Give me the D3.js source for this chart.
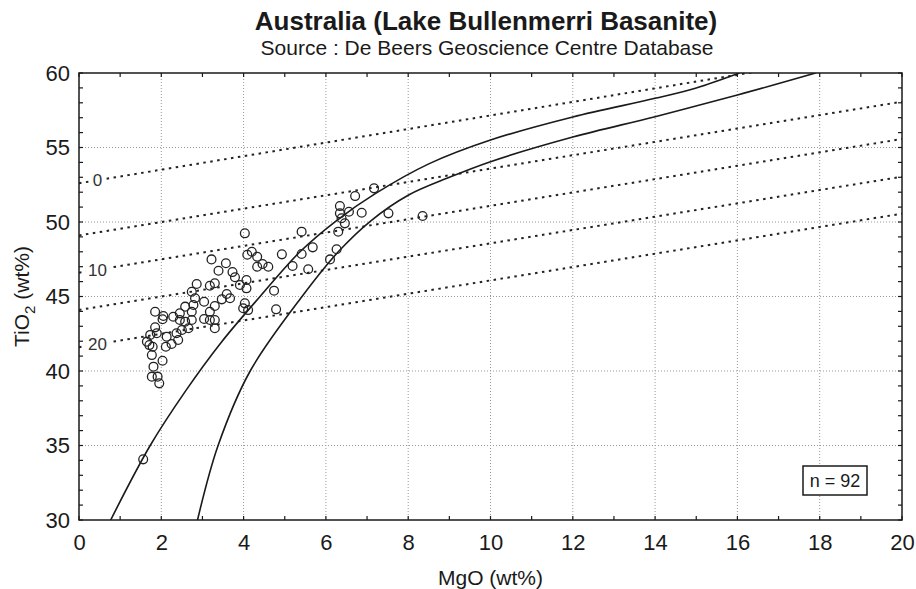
<!DOCTYPE html>
<html>
<head>
<meta charset="utf-8">
<script src="https://cdn.jsdelivr.net/npm/d3@7"></script>
<style>
  body { margin: 0; background: #fff; }
  svg text { font-family: "Liberation Sans", Arial, sans-serif; fill: #1a1a1a; }
</style>
</head>
<body>
<div id="chart"></div>
<script>
// sample points (MgO, TiO2)
const mgo = [
  3.22, 3.57, 3.39, 3.73, 3.79, 3.91, 4.07, 4.07, 4.03, 3.99, 4.11, 3.30, 3.18, 2.86, 2.74, 2.82,
  2.78, 3.04, 3.47, 3.59, 3.67, 3.30, 3.18, 3.18, 3.30, 3.04, 3.30, 2.74, 2.58, 2.45, 2.58, 2.45,
  2.29, 2.74, 2.66, 2.50, 2.37, 2.41, 2.25, 2.11, 2.13, 2.03, 2.05, 1.85, 1.85, 1.89, 1.73, 1.65,
  1.71, 1.79, 1.77, 1.81, 2.03, 1.77, 1.91, 1.95, 1.56,
  4.03, 5.41, 4.09, 4.20, 4.33, 4.33, 4.46, 4.60, 4.93, 5.19, 5.41, 5.68, 5.57, 6.10, 6.26, 6.30,
  4.74, 4.79,
  6.71, 7.17, 6.34, 6.34, 6.56, 6.87, 6.46, 6.38, 7.52, 8.35
];
const tio2 = [
  47.49, 47.23, 46.73, 46.64, 46.29, 45.77, 46.11, 45.55, 44.54, 44.21, 44.09, 45.89, 45.72, 45.84, 45.32, 44.88,
  44.43, 44.65, 44.81, 45.17, 44.88, 44.36, 43.98, 43.42, 43.42, 43.49, 42.87, 43.98, 44.32, 43.87, 43.31, 43.42,
  43.64, 43.42, 42.87, 42.75, 42.53, 42.08, 41.81, 41.63, 42.30, 43.47, 43.69, 43.98, 42.93, 42.53, 42.42, 41.97,
  41.74, 41.63, 41.07, 40.29, 40.69, 39.62, 39.62, 39.17, 34.07,
  49.24, 49.35, 47.80, 48.00, 47.67, 47.00, 47.18, 47.00, 47.83, 47.05, 47.85, 48.30, 46.83, 47.49, 48.17, 49.35,
  45.39, 44.14,
  51.74, 52.26, 51.07, 50.58, 50.69, 50.62, 49.91, 50.25, 50.58, 50.40
];

// solid boundary curves
const curveAx = [0.77, 1.73, 2.6, 3.45, 4.4, 5.37, 6.26, 7.2, 8.5, 10, 12, 14, 15, 16.05];
const curveAy = [30, 35, 38.7, 41.9, 45.0, 48.0, 50.1, 51.9, 53.9, 55.5, 57.05, 58.3, 59.0, 60];
const curveBx = [2.88, 3.38, 4.16, 5.42, 6.3, 7.1, 8.0, 9.0, 10, 12, 14, 16, 17.9];
const curveBy = [30, 35, 40, 45, 48.0, 50.1, 51.8, 53.0, 54.05, 55.7, 57.07, 58.52, 60];

// dotted guide lines: value at MgO = 0 and at MgO = 20
const guideStart = [52.6, 49.1, 46.6, 44.1, 41.6];
const guideEnd = [61.7, 58.07, 55.57, 53.04, 50.56];
const guideLabels = ['0', '', '10', '', '20'];

const xTicks = [0, 2, 4, 6, 8, 10, 12, 14, 16, 18, 20];
const yTicks = [30, 35, 40, 45, 50, 55, 60];

const svgWidth = 916;
const svgHeight = 589;
const margin = { top: 73, right: 14, bottom: 69, left: 79 };
const width = svgWidth - margin.left - margin.right;
const height = svgHeight - margin.top - margin.bottom;

const svg = d3.select('#chart')
  .append('svg')
  .attr('width', svgWidth)
  .attr('height', svgHeight);

svg.append('text')
  .attr('x', 486).attr('y', 30)
  .attr('text-anchor', 'middle')
  .style('font-size', '26px').style('font-weight', 'bold')
  .text('Australia (Lake Bullenmerri Basanite)');

svg.append('text')
  .attr('x', 487).attr('y', 55)
  .attr('text-anchor', 'middle')
  .style('font-size', '21px')
  .text('Source : De Beers Geoscience Centre Database');

const chart = svg.append('g')
  .attr('transform', `translate(${margin.left}, ${margin.top})`);

const x = d3.scaleLinear().domain([0, 20]).range([0, width]);
const y = d3.scaleLinear().domain([30, 60]).range([height, 0]);

chart.append('clipPath').attr('id', 'clip')
  .append('rect').attr('width', width).attr('height', height);

// grid
chart.append('g')
  .selectAll('line')
  .data(xTicks.slice(1, -1))
  .enter().append('line')
  .attr('x1', d => x(d)).attr('x2', d => x(d))
  .attr('y1', 0).attr('y2', height)
  .attr('stroke', '#999').attr('stroke-width', 1).attr('stroke-dasharray', '1,2');

chart.append('g')
  .selectAll('line')
  .data(yTicks.slice(1, -1))
  .enter().append('line')
  .attr('x1', 0).attr('x2', width)
  .attr('y1', d => y(d)).attr('y2', d => y(d))
  .attr('stroke', '#999').attr('stroke-width', 1).attr('stroke-dasharray', '1,2');

const plot = chart.append('g').attr('clip-path', 'url(#clip)');

// dotted guides
const guides = guideStart.map((s, i) => ({ s, e: guideEnd[i], label: guideLabels[i] }));
plot.selectAll('.guide')
  .data(guides)
  .enter().append('line')
  .attr('class', 'guide')
  .attr('x1', x(0)).attr('x2', x(20))
  .attr('y1', d => y(d.s)).attr('y2', d => y(d.e))
  .attr('stroke', '#222').attr('stroke-width', 2).attr('stroke-dasharray', '2.5,4.5');

const lab = chart.selectAll('.glab')
  .data(guides.filter(d => d.label))
  .enter().append('g')
  .attr('class', 'glab')
  .attr('transform', d => `translate(${x(0.45)}, ${y(d.s + 0.45 * 0.45)})`);
lab.append('rect')
  .attr('x', d => -d.label.length * 5 - 2).attr('y', -8)
  .attr('width', d => d.label.length * 10 + 4).attr('height', 16)
  .attr('fill', '#fff');
lab.append('text')
  .attr('text-anchor', 'middle').attr('dy', '0.35em')
  .style('font-size', '17px').style('fill', '#333')
  .text(d => d.label);

// solid curves
const line = d3.line()
  .x(d => x(d[0])).y(d => y(d[1]))
  .curve(d3.curveCatmullRom.alpha(0.5));

plot.append('path')
  .datum(curveAx.map((v, i) => [v, curveAy[i]]))
  .attr('d', line)
  .attr('fill', 'none').attr('stroke', '#1a1a1a').attr('stroke-width', 1.6);

plot.append('path')
  .datum(curveBx.map((v, i) => [v, curveBy[i]]))
  .attr('d', line)
  .attr('fill', 'none').attr('stroke', '#1a1a1a').attr('stroke-width', 1.6);

// points
plot.selectAll('.pt')
  .data(mgo.map((v, i) => [v, tio2[i]]))
  .enter().append('circle')
  .attr('class', 'pt')
  .attr('cx', d => x(d[0])).attr('cy', d => y(d[1]))
  .attr('r', 4.4)
  .attr('fill', 'none').attr('stroke', '#222').attr('stroke-width', 1.3);

// frame and axes
chart.append('rect')
  .attr('width', width).attr('height', height)
  .attr('fill', 'none').attr('stroke', '#1a1a1a').attr('stroke-width', 1.5);

const xAxis = d3.axisBottom(x).tickValues(xTicks).tickSize(0).tickPadding(14);
const yAxis = d3.axisLeft(y).tickValues(yTicks).tickSize(0).tickPadding(9);

chart.append('g')
  .attr('transform', `translate(0, ${height})`)
  .call(xAxis)
  .call(g => g.select('.domain').remove())
  .selectAll('text').style('font-size', '22px').style('fill', '#1a1a1a');

chart.append('g')
  .call(yAxis)
  .call(g => g.select('.domain').remove())
  .selectAll('text').style('font-size', '22px').style('fill', '#1a1a1a');

// inward ticks on all four sides
const minorX = d3.range(0, 21, 1);
const minorY = d3.range(30, 61, 1);
const tickG = chart.append('g').attr('stroke', '#1a1a1a').attr('stroke-width', 1.2);
[0, height].forEach(yy => {
  tickG.selectAll(null).data(minorX).enter().append('line')
    .attr('x1', d => x(d)).attr('x2', d => x(d))
    .attr('y1', yy).attr('y2', yy === 0 ? 4 : height - 4);
});
[0, width].forEach(xx => {
  tickG.selectAll(null).data(minorY).enter().append('line')
    .attr('y1', d => y(d)).attr('y2', d => y(d))
    .attr('x1', xx).attr('x2', xx === 0 ? 4 : width - 4);
});

// axis titles
svg.append('text')
  .attr('x', margin.left + width / 2).attr('y', 585)
  .attr('text-anchor', 'middle')
  .style('font-size', '21px')
  .text('MgO (wt%)');

const yt = svg.append('text')
  .attr('transform', `translate(29, ${margin.top + height / 2}) rotate(-90)`)
  .attr('text-anchor', 'middle')
  .style('font-size', '21px');
yt.append('tspan').text('TiO');
yt.append('tspan').attr('dy', 6).style('font-size', '15px').text('2');
yt.append('tspan').attr('dy', -6).text(' (wt%)');

// n label box
const nBox = chart.append('g').attr('transform', `translate(${width - 99}, ${height - 54})`);
nBox.append('rect')
  .attr('width', 64).attr('height', 29)
  .attr('fill', '#fff').attr('stroke', '#1a1a1a').attr('stroke-width', 1.5);
nBox.append('text')
  .attr('x', 32).attr('y', 15).attr('dy', '0.35em')
  .attr('text-anchor', 'middle')
  .style('font-size', '18px')
  .text('n = 92');
</script>
</body>
</html>
